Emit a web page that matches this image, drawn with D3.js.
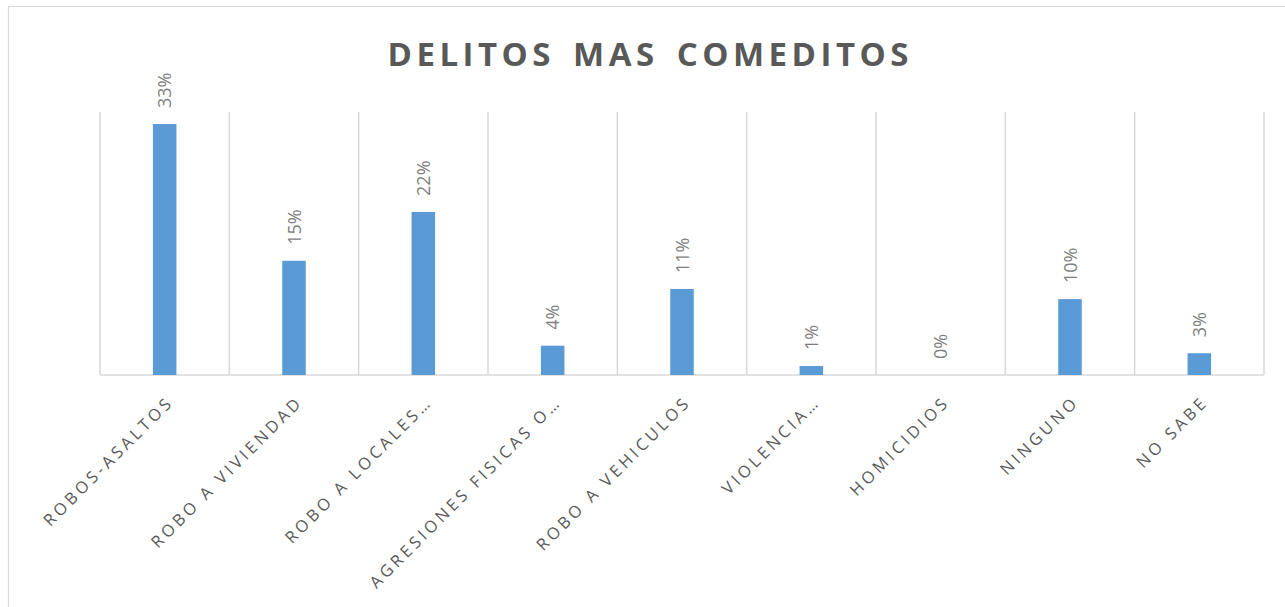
<html lang="es">
<head>
<meta charset="UTF-8">
<title>Delitos mas comedidos</title>
<style>
  body { margin: 0; background: #fff; }
  svg { display: block; }
</style>
</head>
<body>
<svg id="chart" width="1285" height="607"></svg>
<script src="https://d3js.org/d3.v7.min.js"></script>
<script>
// datos
const categorias = ["ROBOS-ASALTOS", "ROBO A VIVIENDAD", "ROBO A LOCALES…", "AGRESIONES FISICAS O…",
                    "ROBO A VEHICULOS", "VIOLENCIA…", "HOMICIDIOS", "NINGUNO", "NO SABE"];
const valores = [0.334, 0.152, 0.217, 0.039, 0.1145, 0.012, 0.0, 0.101, 0.029];
const etiquetas = ["33%", "15%", "22%", "4%", "11%", "1%", "0%", "10%", "3%"];

const svg = d3.select('#chart');
const plotLeft = 100, plotRight = 1264, plotTop = 112, base = 375;

// borde del grafico
svg.append('path')
  .attr('d', 'M8.5,607 L8.5,6.5 L1285,6.5')
  .attr('fill', 'none').attr('stroke', '#d9d9d9').attr('stroke-width', 1.2);

// titulo
const ls = 4.5;
svg.append('text')
  .attr('x', 648 + ls / 2).attr('y', 65.5)
  .attr('text-anchor', 'middle')
  .style('font-family', '"Open Sans", sans-serif')
  .style('font-weight', 700).style('font-size', '33px')
  .style('letter-spacing', ls + 'px')
  .style('word-spacing', '5px')
  .attr('fill', '#595959')
  .text('DELITOS MAS COMEDITOS');

const x = d3.scaleBand().domain(categorias).range([plotLeft, plotRight]).padding(0);
const y = d3.scaleLinear().domain([0, 0.35]).range([base, plotTop]);

// lineas verticales entre categorias
const bordes = categorias.map(c => x(c)).concat([plotRight]);
svg.append('g').selectAll('line').data(bordes).join('line')
  .attr('x1', d => d).attr('x2', d => d)
  .attr('y1', plotTop).attr('y2', base)
  .attr('stroke', '#d9d9d9').attr('stroke-width', 1.5);

// eje base
svg.append('line')
  .attr('x1', plotLeft).attr('x2', plotRight).attr('y1', base).attr('y2', base)
  .attr('stroke', '#d9d9d9').attr('stroke-width', 1.5);

// barras
const bw = x.bandwidth() * 0.182;
svg.append('g').selectAll('rect').data(valores).join('rect')
  .attr('x', (d, i) => x(categorias[i]) + x.bandwidth() / 2 - bw / 2)
  .attr('width', bw)
  .attr('y', d => y(d))
  .attr('height', d => base - y(d))
  .attr('fill', '#5b9bd5');

// etiquetas de valor
svg.append('g').selectAll('text').data(valores).join('text')
  .attr('transform', (d, i) => {
    const cx = x(categorias[i]) + x.bandwidth() / 2 + 6.5;
    return `translate(${cx},${y(d) - 16}) rotate(-90)`;
  })
  .style('font-family', '"Open Sans", sans-serif')
  .style('font-size', '18px')
  .attr('fill', '#7f7f7f')
  .text((d, i) => etiquetas[i]);

// etiquetas de categoria
svg.append('g').selectAll('text').data(categorias).join('text')
  .attr('transform', d => {
    const cx = x(d) + x.bandwidth() / 2 + 10;
    return `translate(${cx},403) rotate(-45)`;
  })
  .attr('text-anchor', 'end')
  .style('font-family', '"Open Sans", sans-serif')
  .style('font-size', '16.5px')
  .style('letter-spacing', '3.5px')
  .attr('fill', '#595959')
  .text(d => d);
</script>
</body>
</html>
